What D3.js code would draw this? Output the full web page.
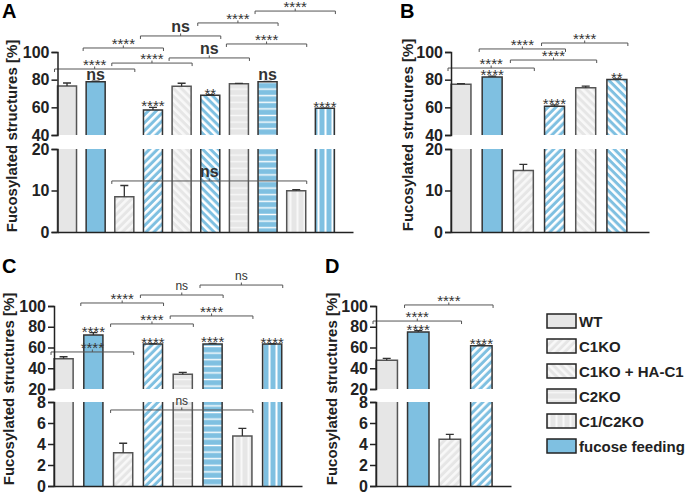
<!DOCTYPE html>
<html>
<head>
<meta charset="utf-8">
<script src="https://cdn.jsdelivr.net/npm/d3@7"></script>
<style>
body { margin: 0; background: #fff; }
svg { font-family: "Liberation Sans", Arial, sans-serif; }
</style>
</head>
<body>
<div id="chart"></div>
<script>
// ---- data ----
// each bar = genotype + fucose feeding (0/1)
var genoA = ["WT","WT","C1KO","C1KO","C1KO + HA-C1","C1KO + HA-C1","C2KO","C2KO","C1/C2KO","C1/C2KO"]
var fucA  = [0,1,0,1,0,1,0,1,0,1]
var valA  = [75.4, 78.5, 8.5, 58.1, 75.2, 68.7, 77.1, 78.5, 9.95, 59.3]
var errA  = [2.2, 0.5, 2.7, 1.9, 2.2, 0.4, 0.2, 0.2, 0.25, 0.2]
var sigA  = ["", "ns", "", "****", "", "**", "", "ns", "", "****"]
// [from, to, label, level in %]
var brA   = [[0,2,"****",87.7],[1,3,"****",102.9],[2,4,"****",92.0],[3,5,"ns",111.6],
             [4,6,"ns",95.7],[5,7,"****",121.0],[6,8,"****",105.8],[7,9,"****",129.6],[2,8,"ns",12.3]]

var genoB = ["WT","WT","C1KO","C1KO","C1KO + HA-C1","C1KO + HA-C1"]
var fucB  = [0,1,0,1,0,1]
var valB  = [76.6, 82.0, 14.8, 60.8, 74.2, 80.2]
var errB  = [0.5, 0.5, 1.5, 1.0, 1.1, 0.3]
var sigB  = ["", "****", "", "****", "", "**"]
var brB   = [[0,2,"****",88.4],[1,3,"****",102.2],[2,4,"****",94.2],[3,5,"****",106.5]]

var genoC = ["WT","WT","C1KO","C1KO","C2KO","C2KO","C1/C2KO","C1/C2KO"]
var fucC  = [0,1,0,1,0,1,0,1]
var valC  = [49.2, 72.0, 3.17, 63.4, 34.2, 63.4, 4.76, 63.4]
var errC  = [1.9, 2.3, 0.9, 0.3, 1.9, 0.5, 0.73, 0.2]
var sigC  = ["", "****", "", "****", "", "****", "", "****"]
var brC   = [[0,2,"****",55.7],[1,3,"****",102.9],[2,4,"****",82.7],[3,5,"ns",110.6],
             [4,6,"****",90.4],[5,7,"ns",120.2],[2,6,"ns",7.24]]

var genoD = ["WT","WT","C1KO","C1KO"]
var fucD  = [0,1,0,1]
var valD  = [47.7, 74.9, 4.45, 61.6]
var errD  = [1.9, 1.3, 0.47, 1.0]
var sigD  = ["", "****", "", "****"]
var brD   = [[0,2,"****",85.5],[1,3,"****",101.0]]

var ticksUpAB = [40, 60, 80, 100], ticksLoAB = [0, 10, 20]
var ticksUpCD = [20, 40, 60, 80, 100], ticksLoCD = [0, 2, 4, 6, 8]

var legendLabels = ["WT", "C1KO", "C1KO + HA-C1", "C2KO", "C1/C2KO", "fucose feeding"]

var yTitle = "Fucosylated structures [%]"

// ---- style ----
var GRAY = "#e6e6e6", GRAYSTRIPE = "#f8f8f8", BLUE = "#7fc0e1"
var patternKind = {"C1KO": "diagUp", "C1KO + HA-C1": "diagDown", "C2KO": "horiz", "C1/C2KO": "vert"}

var svg = d3.select("#chart").append("svg")
    .attr("width", 688)
    .attr("height", 493)

var defs = svg.append("defs")

function makePattern(id, bg, fg, kind){
  var p = defs.append("pattern").attr("id", id).attr("patternUnits", "userSpaceOnUse")
  if (kind == "diagUp" || kind == "diagDown") {
    p.attr("width", 5.6).attr("height", 5.6)
      .attr("patternTransform", "rotate(" + (kind == "diagUp" ? 45 : -45) + ")")
    p.append("rect").attr("width", 5.6).attr("height", 5.6).attr("fill", bg)
    p.append("rect").attr("width", 2.6).attr("height", 5.6).attr("fill", fg)
  } else if (kind == "horiz") {
    p.attr("width", 10).attr("height", 6.6)
    p.append("rect").attr("width", 10).attr("height", 6.6).attr("fill", bg)
    p.append("rect").attr("y", 2.6).attr("width", 10).attr("height", 1.4).attr("fill", fg)
  } else {
    p.attr("width", 7).attr("height", 10)
    p.append("rect").attr("width", 7).attr("height", 10).attr("fill", bg)
    p.append("rect").attr("x", 2.5).attr("width", 2).attr("height", 10).attr("fill", fg)
  }
}

Object.keys(patternKind).forEach(function(g, i){
  makePattern("pg" + i, GRAY, GRAYSTRIPE, patternKind[g])
  makePattern("pb" + i, BLUE, "#ffffff", patternKind[g])
})

function fillFor(geno, fuc){
  if (geno == "WT") return fuc ? BLUE : GRAY
  var i = Object.keys(patternKind).indexOf(geno)
  return "url(#" + (fuc ? "pb" : "pg") + i + ")"
}

// ---- one panel ----
function drawPanel(cfg){
  var g = svg.append("g")

  var x = d3.scaleBand()
    .domain(d3.range(cfg.vals.length))
    .range([cfg.x0, cfg.x1])
    .paddingInner(cfg.pi)
    .paddingOuter(cfg.po)
    .align(0)

  var yUp = d3.scaleLinear().domain(cfg.up).range(cfg.upR)
  var yLo = d3.scaleLinear().domain(cfg.lo).range(cfg.loR)
  var y = v => v >= cfg.up[0] ? yUp(v) : yLo(v)
  var bw = x.bandwidth()

  // bars, split over the broken axis
  cfg.vals.forEach(function(v, i){
    var fill = fillFor(cfg.geno[i], cfg.fuc[i])
    var stroke = cfg.fuc[i] ? "#333" : "#555"
    var x0 = x(i), x1 = x(i) + bw
    var loTop = v >= cfg.lo[1] ? yLo(cfg.lo[1]) : yLo(v)
    g.append("rect")
      .attr("x", x0).attr("y", loTop)
      .attr("width", bw).attr("height", yLo(0) - loTop)
      .attr("fill", fill)
    var path = "M" + x0 + "," + yLo(0) + "V" + loTop
    if (v < cfg.lo[1]) path += "H" + x1
    else path += "M" + x1 + "," + loTop
    path += "V" + yLo(0)
    if (v > cfg.up[0]) {
      g.append("rect")
        .attr("x", x0).attr("y", yUp(v))
        .attr("width", bw).attr("height", yUp(cfg.up[0]) - yUp(v))
        .attr("fill", fill)
      path += "M" + x0 + "," + yUp(cfg.up[0]) + "V" + yUp(v) + "H" + x1 + "V" + yUp(cfg.up[0])
    }
    g.append("path").attr("d", path)
      .attr("fill", "none").attr("stroke", stroke).attr("stroke-width", 1.5)

    // error bar (upper half only)
    var cx = x0 + bw / 2, e = cfg.errs[i]
    g.append("path")
      .attr("d", "M" + cx + "," + y(v) + "V" + y(v + e) + "M" + (cx - 4) + "," + y(v + e) + "H" + (cx + 4))
      .attr("fill", "none").attr("stroke", "#333").attr("stroke-width", 1.3)

    // significance above bar
    var s = cfg.sig[i]
    if (s) {
      var t = g.append("text")
        .attr("x", cx).attr("text-anchor", "middle")
        .attr("fill", "#333").text(s)
      if (s == "ns") t.attr("y", y(v + e) - 1).style("font-size", "16px").style("font-weight", "bold")
      else t.attr("y", y(v + e) + 4).style("font-size", "15px")
    }
  })

  // comparison brackets
  cfg.br.forEach(function(b){
    var bx0 = x(b[0]) - 3, bx1 = x(b[1]) + bw + 1, by = y(b[3])
    var cx = (bx0 + bx1) / 2
    g.append("path")
      .attr("d", "M" + bx0 + "," + (by + 3) + "V" + by + "H" + bx1 + "V" + (by + 3) +
                 "M" + cx + "," + by + "V" + (by - 2.5))
      .attr("fill", "none").attr("stroke", "#555").attr("stroke-width", 1)
    var t = g.append("text")
      .attr("x", cx).attr("text-anchor", "middle")
      .attr("fill", "#333").text(b[2])
    if (b[2] == "ns") {
      if (cfg.bigNs) t.attr("y", by - 4).style("font-size", "16px").style("font-weight", "bold")
      else t.attr("y", by - 5).style("font-size", "12px")
    } else t.attr("y", by + 1).style("font-size", "15px")
  })

  // axes
  var axUp = g.append("g")
    .attr("transform", "translate(" + cfg.x0 + ",0)")
    .call(d3.axisLeft(yUp).tickValues(cfg.ticksUp).tickSizeOuter(0).tickSize(6).tickPadding(2))
  var axLo = g.append("g")
    .attr("transform", "translate(" + cfg.x0 + ",0)")
    .call(d3.axisLeft(yLo).tickValues(cfg.ticksLo).tickSizeOuter(0).tickSize(6).tickPadding(2))
  var axX = g.append("g")
    .attr("transform", "translate(0," + yLo(0) + ")")
    .call(d3.axisBottom(x).tickValues([]).tickSizeOuter(0))

  ;[axUp, axLo, axX].forEach(function(a){
    a.selectAll("path, line").attr("stroke", "#222").attr("stroke-width", 1.5)
    a.selectAll("text")
      .attr("fill", "#222")
      .style("font-size", "16px")
      .style("font-weight", "bold")
      .style("font-family", "'Liberation Sans', Arial, sans-serif")
  })

  // y title
  g.append("text")
    .attr("transform", "translate(" + cfg.titleX + "," + cfg.titleY + ") rotate(-90)")
    .attr("text-anchor", "middle")
    .style("font-size", "15px").style("font-weight", "bold")
    .attr("fill", "#222")
    .text(yTitle)

  // panel letter
  g.append("text")
    .attr("x", cfg.lx).attr("y", cfg.ly)
    .style("font-size", "20px").style("font-weight", "bold")
    .attr("fill", "#000")
    .text(cfg.letter)
}

drawPanel({geno: genoA, fuc: fucA, vals: valA, errs: errA, sig: sigA, br: brA, bigNs: true,
  x0: 57.5, x1: 353, pi: 0.336, po: 0.325,
  up: [40, 100], upR: [135, 52], lo: [0, 20], loR: [232, 149],
  ticksUp: ticksUpAB, ticksLo: ticksLoAB,
  titleX: 17, titleY: 136, letter: "A", lx: 2, ly: 18})

drawPanel({geno: genoB, fuc: fucB, vals: valB, errs: errB, sig: sigB, br: brB, bigNs: true,
  x0: 451, x1: 649, pi: 0.36, po: 0.355,
  up: [40, 100], upR: [135, 52], lo: [0, 20], loR: [232, 149],
  ticksUp: ticksUpAB, ticksLo: ticksLoAB,
  titleX: 413, titleY: 135, letter: "B", lx: 400, ly: 18})

drawPanel({geno: genoC, fuc: fucC, vals: valC, errs: errC, sig: sigC, br: brC, bigNs: false,
  x0: 54, x1: 302, pi: 0.358, po: 0.34,
  up: [20, 100], upR: [389, 306], lo: [0, 8], loR: [486, 402],
  ticksUp: ticksUpCD, ticksLo: ticksLoCD,
  titleX: 14, titleY: 389, letter: "C", lx: 2, ly: 273})

drawPanel({geno: genoD, fuc: fucD, vals: valD, errs: errD, sig: sigD, br: brD, bigNs: false,
  x0: 376, x1: 511, pi: 0.32, po: 0.3,
  up: [20, 100], upR: [389, 306], lo: [0, 8], loR: [486, 402],
  ticksUp: ticksUpCD, ticksLo: ticksLoCD,
  titleX: 337, titleY: 389, letter: "D", lx: 325, ly: 273})

// ---- legend ----
var legend = svg.append("g")
var legendGeno = ["WT", "C1KO", "C1KO + HA-C1", "C2KO", "C1/C2KO", "WT"]
var legendFuc = [0, 0, 0, 0, 0, 1]
var ly = d3.scalePoint().domain(legendLabels).range([314, 439])

legend.selectAll("rect")
  .data(legendLabels)
  .enter().append("rect")
    .attr("x", 547)
    .attr("y", d => ly(d))
    .attr("width", 29)
    .attr("height", 14)
    .attr("fill", (d, i) => fillFor(legendGeno[i], legendFuc[i]))
    .attr("stroke", "#222")
    .attr("stroke-width", 1.5)

legend.selectAll("text")
  .data(legendLabels)
  .enter().append("text")
    .attr("x", 579)
    .attr("y", d => ly(d) + 12.5)
    .style("font-size", "15px")
    .style("font-weight", "bold")
    .attr("fill", "#222")
    .text(d => d)
</script>
</body>
</html>
